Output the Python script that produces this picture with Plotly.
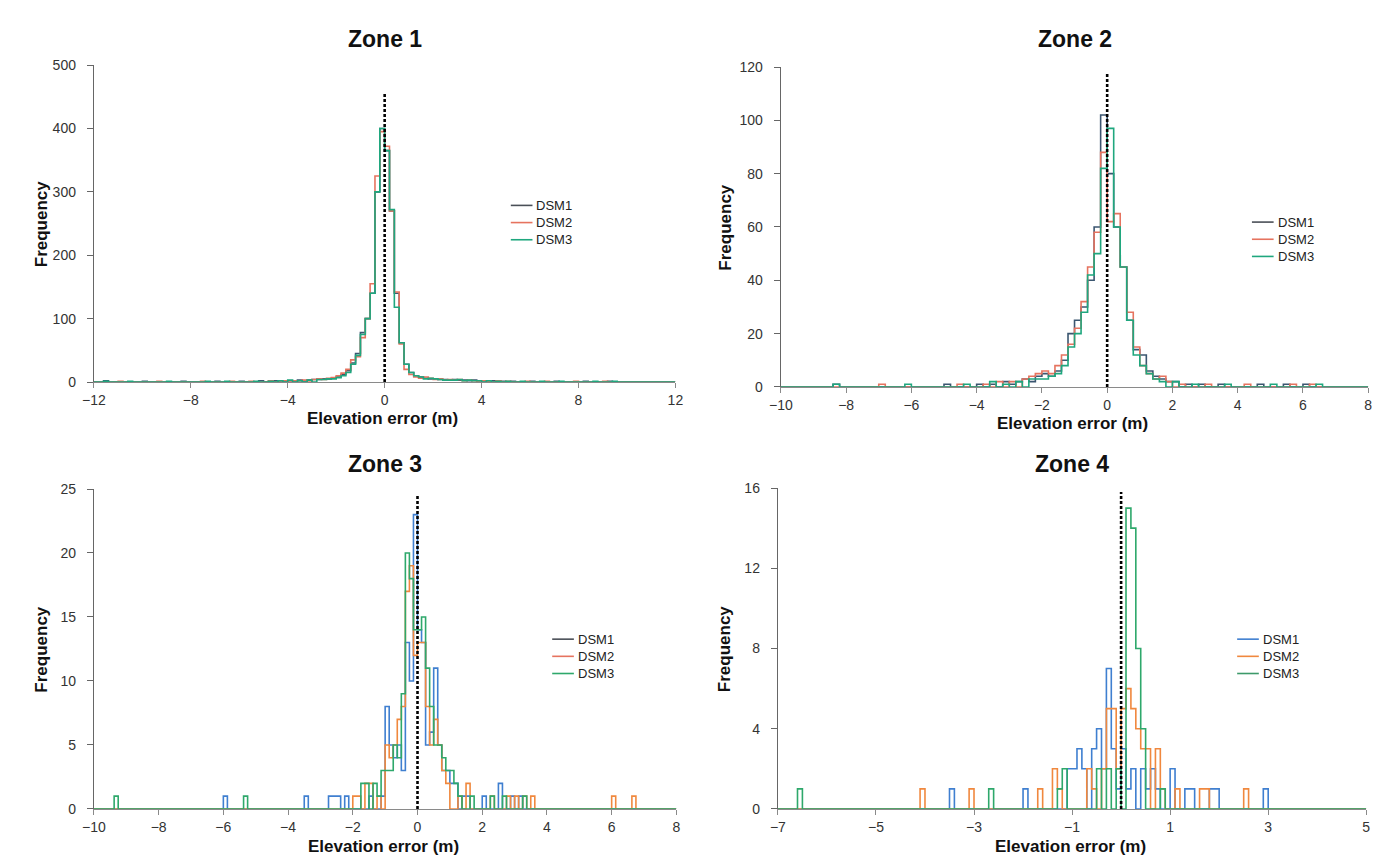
import numpy as np
import plotly.graph_objects as go

W, H = 1384, 858

# ---------------- DATA (bin left edge -> count, non-zero bins only) ----------------
# Zone 1 : bin width 0.2
z1_bw = 0.2
z1_range = [-12, 12]
z1_d1_e = [-11.6,-10.0,-8.4,-7.0,-6.0,-5.2,-4.6,-4.0,-3.6,-3.2,-3.0,-2.8,-2.6,-2.4,-2.2,-2.0,-1.8,-1.6,-1.4,-1.2,-1.0,-0.8,-0.6,-0.4,-0.2,0.0,0.2,0.4,0.6,0.8,1.0,1.2,1.4,1.6,1.8,2.0,2.2,2.4,2.6,2.8,3.0,3.2,3.4,3.6,3.8,4.0,4.4,4.8,5.2,6.0,7.0,8.2,9.2]
z1_d1_n = [2,1,1,1,1,2,2,2,3,3,4,4,5,5,6,8,12,18,30,45,78,100,140,300,400,365,270,140,62,28,15,10,8,6,5,5,4,4,3,4,3,3,2,3,2,2,2,1,1,1,1,1,1]
z1_d2_e = [-11.0,-9.4,-7.6,-6.4,-5.6,-4.8,-4.2,-3.8,-3.4,-3.0,-2.8,-2.6,-2.4,-2.2,-2.0,-1.8,-1.6,-1.4,-1.2,-1.0,-0.8,-0.6,-0.4,-0.2,0.0,0.2,0.4,0.6,0.8,1.0,1.2,1.4,1.6,1.8,2.0,2.2,2.4,2.6,2.8,3.0,3.2,3.4,3.6,4.0,4.2,4.6,5.0,5.8,6.6,7.8,9.0]
z1_d2_n = [1,1,1,1,1,2,2,2,3,4,5,4,6,7,10,14,20,35,40,70,100,155,325,395,372,270,142,60,20,12,8,6,8,6,4,5,3,4,3,4,2,3,2,2,1,2,1,1,1,1,1]
z1_d3_e = [-11.6,-10.6,-9.0,-7.4,-6.6,-5.4,-4.8,-4.4,-4.0,-3.6,-3.2,-2.8,-2.6,-2.4,-2.2,-2.0,-1.8,-1.6,-1.4,-1.2,-1.0,-0.8,-0.6,-0.4,-0.2,0.0,0.2,0.4,0.6,0.8,1.0,1.2,1.4,1.6,1.8,2.0,2.2,2.4,2.6,2.8,3.0,3.2,3.4,3.6,3.8,4.2,4.6,5.0,5.6,6.4,7.2,8.6,9.4]
z1_d3_n = [1,1,1,1,1,1,1,2,3,2,3,4,4,5,5,7,10,15,28,42,75,100,140,300,400,365,272,118,62,28,15,10,8,5,6,5,4,3,3,3,4,2,3,2,2,2,1,1,1,1,1,1,1]

# Zone 2 : bin width 0.2
z2_bw = 0.2
z2_range = [-10, 8]
z2_d1_e = [-8.4,-5.0,-4.0,-3.6,-3.2,-3.0,-2.8,-2.6,-2.4,-2.2,-2.0,-1.8,-1.6,-1.4,-1.2,-1.0,-0.8,-0.6,-0.4,-0.2,0.0,0.2,0.4,0.6,0.8,1.0,1.2,1.4,1.6,1.8,2.0,2.4,2.8,3.4,4.6,5.4,6.0]
z2_d1_n = [1,1,1,1,2,1,2,3,2,4,5,4,6,10,20,25,30,40,60,102,80,60,45,25,14,12,6,4,3,2,2,1,1,1,1,1,1]
z2_d2_e = [-7.0,-4.6,-3.8,-3.4,-3.0,-2.6,-2.4,-2.2,-2.0,-1.8,-1.6,-1.4,-1.2,-1.0,-0.8,-0.6,-0.4,-0.2,0.0,0.2,0.4,0.6,0.8,1.0,1.2,1.4,1.6,1.8,2.2,3.0,4.2,5.6,6.2]
z2_d2_n = [1,1,1,2,2,3,4,5,6,5,8,12,16,22,32,45,58,88,62,65,45,28,15,8,5,3,4,2,1,1,1,1,1]
z2_d3_e = [-8.4,-6.2,-4.4,-3.6,-3.2,-2.8,-2.4,-2.2,-2.0,-1.8,-1.6,-1.4,-1.2,-1.0,-0.8,-0.6,-0.4,-0.2,0.0,0.2,0.4,0.6,0.8,1.0,1.2,1.4,1.6,2.0,2.6,3.6,5.0,6.4]
z2_d3_n = [1,1,1,2,1,2,3,3,3,4,5,8,15,20,28,42,50,82,97,60,45,25,12,8,5,3,2,2,1,1,1,1]

# Zone 3 : bin width 0.125
z3_bw = 0.125
z3_range = [-10, 8]
z3_d1_e = [-6.0,-3.5,-2.75,-2.625,-2.5,-2.25,-1.5,-1.125,-1.0,-0.875,-0.75,-0.625,-0.5,-0.375,-0.25,-0.125,0.0,0.125,0.25,0.375,0.5,0.625,0.75,0.875,1.0,1.125,1.375,1.5,2.0,2.5,2.875,3.125]
z3_d1_n = [1,1,1,1,1,1,1,1,8,5,4,5,3,13,10,23,14,13,5,6,11,5,3,3,2,2,1,1,1,2,1,1]
z3_d2_e = [-2.0,-1.875,-1.625,-1.5,-1.25,-1.0,-0.875,-0.75,-0.625,-0.5,-0.375,-0.25,-0.125,0.0,0.125,0.25,0.375,0.5,0.625,0.75,0.875,1.25,1.5,2.25,2.75,3.0,3.25,3.5,6.0,6.625]
z3_d2_n = [1,1,2,2,1,5,4,5,7,8,17,19,12,13,13,8,5,7,5,3,2,1,2,1,1,1,1,1,1,1]
z3_d3_e = [-9.375,-5.375,-1.75,-1.625,-1.375,-1.25,-1.125,-1.0,-0.875,-0.75,-0.625,-0.5,-0.375,-0.25,-0.125,0.0,0.125,0.25,0.375,0.5,0.625,0.75,0.875,1.0,1.125,1.25,1.625,2.25,2.625,3.25]
z3_d3_n = [1,1,2,2,2,1,3,3,3,5,4,9,20,18,14,14,15,11,8,5,5,4,3,3,2,1,1,1,1,1]

# Zone 4 : bin width 0.1
z4_bw = 0.1
z4_range = [-7, 5]
z4_d1_e = [-3.5,-2.0,-1.1,-1.0,-0.9,-0.8,-0.6,-0.5,-0.4,-0.3,-0.2,-0.1,0.0,0.1,0.2,0.4,0.5,0.6,0.7,1.0,1.3,1.4,1.8,1.9,2.9]
z4_d1_n = [1,1,2,2,3,2,3,4,2,7,3,1,3,1,2,2,1,2,1,2,1,1,1,1,1]
z4_d2_e = [-4.1,-3.1,-1.7,-1.4,-1.3,-0.7,-0.6,-0.4,-0.3,-0.2,-0.1,0.0,0.1,0.2,0.3,0.4,0.5,0.7,0.8,1.1,1.6,1.7,2.5]
z4_d2_n = [1,1,1,2,1,2,1,2,5,5,2,5,6,5,4,3,3,3,1,1,1,1,1]
z4_d3_e = [-6.6,-2.7,-1.3,-1.2,-0.5,-0.3,-0.1,0.1,0.2,0.3,0.4,0.8]
z4_d3_n = [1,1,1,2,2,2,2,15,14,8,4,1]

# reference (zero error) dashed line heights
zero_line_top = [455, 118, 24.6, 15.8]

series_names = ["DSM1", "DSM2", "DSM3"]
y_ranges = [[0, 500], [0, 120], [0, 25], [0, 16]]
y_dticks = [100, 20, 5, 4]
x_ticks = [dict(tick0=-12, dtick=4), dict(tick0=-10, dtick=2),
           dict(tick0=-10, dtick=2), dict(tick0=-7, dtick=2)]
x_ranges = [z1_range, z2_range, z3_range, z4_range]
titles = ["Zone 1", "Zone 2", "Zone 3", "Zone 4"]

# ---------------- STYLE ----------------
col_a = ["#3b5670", "#e6735f", "#1fa77e"]   # zones 1-2 lines
col_b = ["#3f7fd0", "#f0883e", "#2ea86b"]   # zones 3-4 lines
leg_cols = [["#4a4f57", "#e6735f", "#1fa77e"], ["#4a4f57", "#e6735f", "#1fa77e"],
            ["#4a4f57", "#e6735f", "#2ea86b"], ["#3f7fd0", "#f0883e", "#3d9a6a"]]
FONT = "Liberation Sans, Arial, sans-serif"

# panel pixel boxes: (x0, x1, ytop, ybottom)
boxes = [(75, 665, 50, 373), (772, 1368, 52, 378), (75, 666, 482, 808), (769, 1366, 481, 808)]
title_y = [23, 23, 457, 457]
xtitle_dy = [37, 37, 38, 38]
freq_x = [22, 716, 22, 715]
# legend: (line start x, first row centre y)
legend_px = [(498, 193), (1250, 210), (540, 635), (1235, 635)]
leg_row = 17.5
leg_len = 22


def px_x(p):
    return p / W


def px_y(p):
    return 1 - p / H


def step_xy(rng, bw, edges, counts):
    nb = int(round((rng[1] - rng[0]) / bw))
    c = np.zeros(nb)
    for e, n in zip(edges, counts):
        i = int(round((e - rng[0]) / bw))
        c[i] = n
    xe = rng[0] + bw * np.arange(nb + 1)
    ys = np.append(c, c[-1])
    return xe, ys


fig = go.Figure()

zones = [
    (z1_range, z1_bw, [(z1_d1_e, z1_d1_n), (z1_d2_e, z1_d2_n), (z1_d3_e, z1_d3_n)], col_a),
    (z2_range, z2_bw, [(z2_d1_e, z2_d1_n), (z2_d2_e, z2_d2_n), (z2_d3_e, z2_d3_n)], col_a),
    (z3_range, z3_bw, [(z3_d1_e, z3_d1_n), (z3_d2_e, z3_d2_n), (z3_d3_e, z3_d3_n)], col_b),
    (z4_range, z4_bw, [(z4_d1_e, z4_d1_n), (z4_d2_e, z4_d2_n), (z4_d3_e, z4_d3_n)], col_b),
]

for k, (rng, bw, ser, cols) in enumerate(zones):
    xa = "x" if k == 0 else f"x{k+1}"
    ya = "y" if k == 0 else f"y{k+1}"
    for j, (e, n) in enumerate(ser):
        xs, ys = step_xy(rng, bw, e, n)
        fig.add_trace(go.Scatter(x=xs, y=ys, mode="lines", line_shape="hv",
                                 line=dict(color=cols[j], width=1.6),
                                 name=series_names[j], xaxis=xa, yaxis=ya,
                                 showlegend=False, hoverinfo="skip"))
    fig.add_trace(go.Scatter(x=[0, 0], y=[0, zero_line_top[k]], mode="lines",
                             line=dict(color="black", width=2.6, dash="3px,2px"),
                             xaxis=xa, yaxis=ya, showlegend=False, hoverinfo="skip"))

layout = dict(width=W, height=H, margin=dict(l=0, r=0, t=0, b=0),
              paper_bgcolor="white", plot_bgcolor="white",
              font=dict(family=FONT, color="#222"), showlegend=False)

anns = []
shapes = []
for k, (x0, x1, yt, yb) in enumerate(boxes):
    sfx = "" if k == 0 else str(k + 1)
    layout["xaxis" + sfx] = dict(domain=[px_x(x0), px_x(x1)], range=x_ranges[k],
                                 anchor="y" + sfx, showgrid=False, zeroline=False,
                                 showline=True, linecolor="#8a8a8a", linewidth=1.3,
                                 ticks="outside", ticklen=5, tickcolor="#8a8a8a",
                                 tickfont=dict(size=14, color="#333", family=FONT),
                                 tickmode="linear", **x_ticks[k])
    layout["yaxis" + sfx] = dict(domain=[px_y(yb), px_y(yt)], range=y_ranges[k],
                                 anchor="x" + sfx, showgrid=False, zeroline=False,
                                 showline=True, linecolor="#666", linewidth=1.3,
                                 ticks="outside", ticklen=6, tickcolor="#666",
                                 ticklabelstandoff=8,
                                 tickfont=dict(size=14, color="#333", family=FONT),
                                 tickmode="linear", tick0=0, dtick=y_dticks[k])
    cx = (x0 + x1) / 2
    anns.append(dict(text="<b>" + titles[k] + "</b>", x=px_x(cx), y=px_y(title_y[k]),
                     xref="paper", yref="paper", showarrow=False,
                     font=dict(size=23, color="#111", family=FONT), xanchor="center", yanchor="middle"))
    anns.append(dict(text="<b>Elevation error (m)</b>", x=px_x(cx - 2), y=px_y(yb + xtitle_dy[k]),
                     xref="paper", yref="paper", showarrow=False,
                     font=dict(size=17, color="#111", family=FONT), xanchor="center", yanchor="middle"))
    anns.append(dict(text="<b>Frequency</b>", x=px_x(freq_x[k]), y=px_y((yt + yb) / 2),
                     xref="paper", yref="paper", showarrow=False, textangle=-90,
                     font=dict(size=17, color="#111", family=FONT), xanchor="center", yanchor="middle"))
    lx, ly = legend_px[k]
    for j, nm in enumerate(series_names):
        yy = ly + j * leg_row
        shapes.append(dict(type="line", xref="paper", yref="paper",
                           x0=px_x(lx), x1=px_x(lx + leg_len), y0=px_y(yy), y1=px_y(yy),
                           line=dict(color=leg_cols[k][j], width=1.6)))
        anns.append(dict(text=nm, x=px_x(lx + leg_len + 2), y=px_y(yy), xref="paper", yref="paper",
                         showarrow=False, xanchor="left", yanchor="middle",
                         font=dict(size=13, color="#222", family=FONT)))

layout["annotations"] = anns
layout["shapes"] = shapes
fig.update_layout(**layout)
fig.write_html("out.html")
